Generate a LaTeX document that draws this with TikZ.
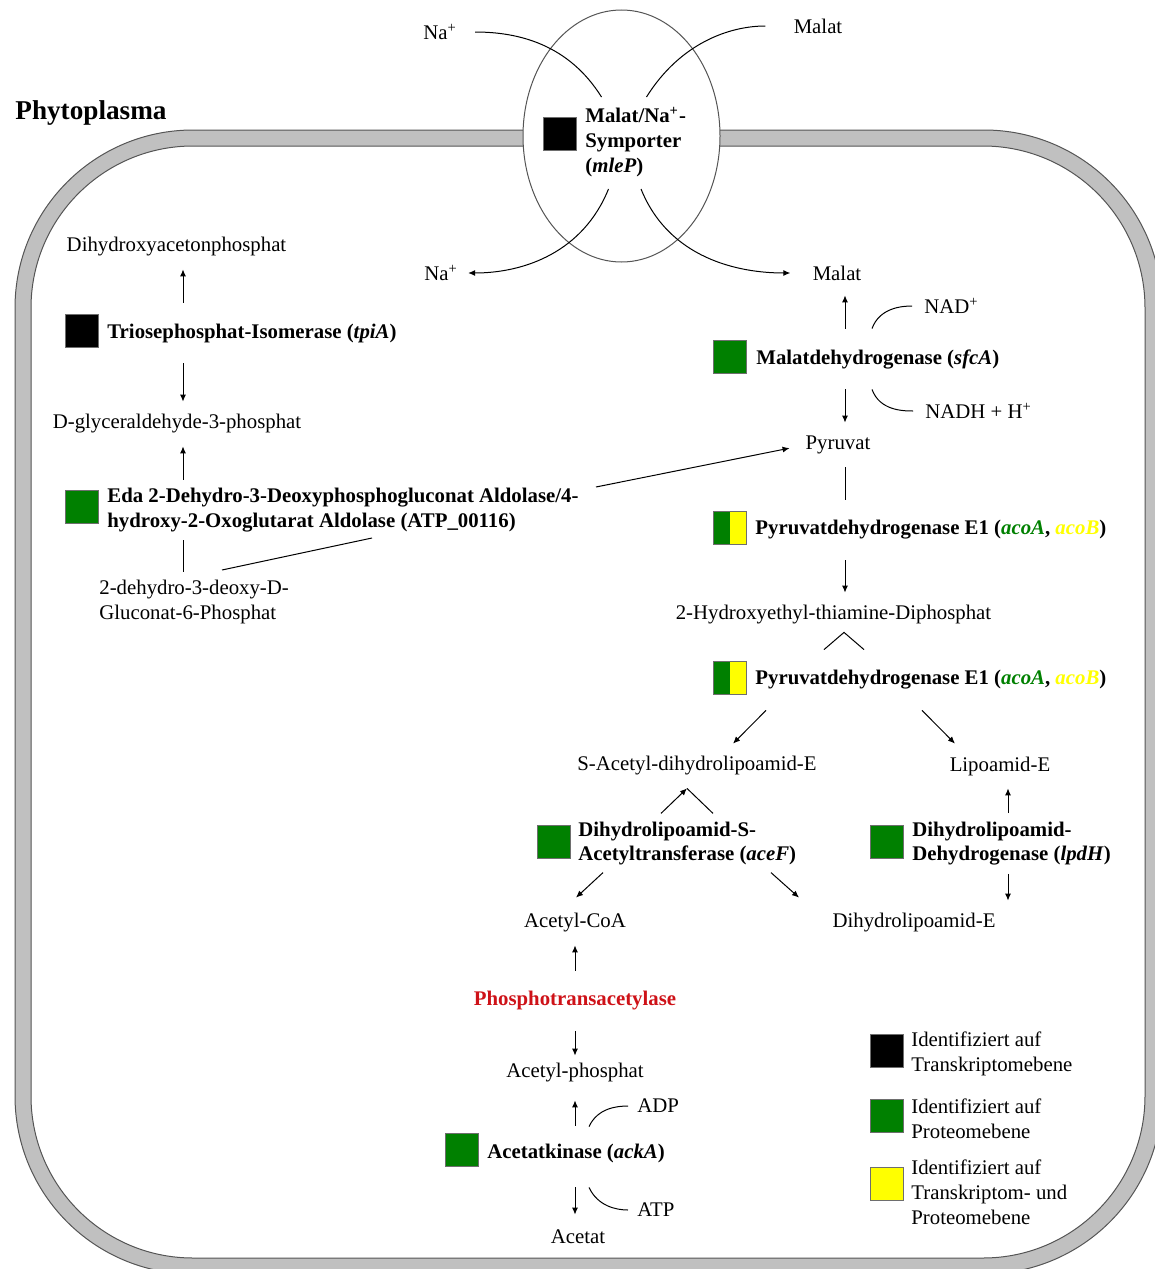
\documentclass[tikz,border=0pt]{standalone}
\usepackage{fontspec}
\setmainfont{Liberation Serif}
\usetikzlibrary{arrows.meta,shapes.geometric,calc}
\definecolor{pgreen}{RGB}{0,128,0}
\definecolor{pyellow}{RGB}{255,255,0}
\definecolor{pred}{RGB}{206,18,24}
\definecolor{memgray}{RGB}{192,192,192}
\definecolor{memline}{RGB}{85,85,85}
\definecolor{sqgray}{RGB}{110,110,110}
\newcommand{\bodysize}{\fontsize{10.4pt}{12.4pt}\selectfont}
\newcommand{\gene}[1]{\textit{#1}}

\begin{document}
\begin{tikzpicture}[
  x=0.5pt, y=-0.5pt,
  every node/.style={font=\bodysize, inner sep=0pt},
  metab/.style={minimum height=22pt, align=center, yshift=-1pt},
  enzyme/.style={anchor=west, minimum height=30pt, align=left, yshift=-1pt,
                 font=\bodysize\bfseries},
  side/.style={anchor=west, align=left, yshift=-1pt},
  marker/.style={draw=sqgray, line width=0.4pt, minimum size=16.5pt},
  dual/.style={marker, fill=pyellow, path picture={
      \fill[pgreen] (path picture bounding box.south west)
        rectangle (path picture bounding box.north);}},
  flow/.style={-{Latex[length=3.5pt,width=3pt]}, line width=0.5pt},
  link/.style={line width=0.5pt}
]
\useasboundingbox (0,0) rectangle (1155,1269);

% membrane
\begin{scope}
\clip (0,0) rectangle (1155,1269);
\fill[memgray, even odd rule] [rounded corners=89pt] (15,130) rectangle (1162,1274)
  [rounded corners=81pt] (31,146) rectangle (1145,1258);
\draw[memline, line width=0.5pt] [rounded corners=89pt] (15,130) rectangle (1162,1274)
  [rounded corners=81pt] (31,146) rectangle (1145,1258);
\end{scope}
\node[anchor=west, font=\fontsize{13.6pt}{16pt}\selectfont\bfseries] (phyto) at (15,113) {Phytoplasma};

% transporter
\node[ellipse, draw=memline, fill=white, line width=0.5pt,
      minimum width=98.5pt, minimum height=126pt] (sym) at (621.5,136) {};
\node[marker, fill=black] (symSq) at (559.5,133.5) {};
\node[side, font=\bodysize\bfseries] (symTxt) at (585,140)
  {Malat/Na\textsuperscript{+}-\\Symporter\\(\gene{mleP})};
\node[side, anchor=center] (naT) at (440,30) {Na\textsuperscript{+}};
\node[side, anchor=center] (malT) at (818,24) {Malat};
\node[metab] (naB) at (441,271) {Na\textsuperscript{+}};
\node[metab] (malB) at (837,271) {Malat};

\draw[link, shorten <=9pt] (naT.east) to[out=0,in=122] ($(sym.center)+(-20,-39)$);
\draw[link, shorten <=14pt] (malT.west) to[out=180,in=58] ($(sym.center)+(25,-39)$);
\draw[flow, shorten >=5pt] ($(sym.center)+(-13,53)$) to[out=-112,in=0] (naB.east);
\draw[flow, shorten >=11pt] ($(sym.center)+(19.5,53)$) to[out=-68,in=180] (malB.west);

% columns of the arrows
\coordinate (colL) at (183,0);
\coordinate (colR) at (845,0);
\coordinate (colA) at (575,0);
\coordinate (colD) at (1008,0);

% left branch
\node[metab] (dhap) at (176.5,245) {Dihydroxyacetonphosphat};
\node[marker, fill=black] (tpiSq) at (81.5,330.5) {};
\node[enzyme] (tpi) at (107,331) {Triosephosphat-Isomerase (\gene{tpiA})};
\node[metab] (gap) at (177,422) {D-glyceraldehyde-3-phosphat};
\node[marker, fill=pgreen] (edaSq) at (81.5,507) {};
\node[enzyme] (eda) at (107,508)
  {Eda 2-Dehydro-3-Deoxyphosphogluconat Aldolase/4-\\hydroxy-2-Oxoglutarat Aldolase (ATP\_00116)};
\node[metab, anchor=west, align=left] (kdpg) at (99,600)
  {2-dehydro-3-deoxy-D-\\Gluconat-6-Phosphat};

\draw[flow] (tpi.north -| colL) -- (dhap.south -| colL);
\draw[flow] (tpi.south -| colL) -- (gap.north -| colL);
\draw[flow] (eda.north -| colL) -- (gap.south -| colL);
\draw[link, shorten >=4pt] (eda.south -| colL) -- (kdpg.north -| colL);

% right branch
\node[marker, fill=pgreen] (sfcSq) at (729.5,356.5) {};
\node[enzyme] (sfc) at (756,357) {Malatdehydrogenase (\gene{sfcA})};
\node[side] (nad) at (924,304) {NAD\textsuperscript{+}};
\node[side] (nadh) at (925,409) {NADH + H\textsuperscript{+}};
\node[metab] (pyr) at (838,443) {Pyruvat};
\node[dual] (pdhSqA) at (729.5,527.5) {};
\node[enzyme] (pdhA) at (755,528)
  {Pyruvatdehydrogenase E1 (\textcolor{pgreen}{\gene{acoA}}, \textcolor{pyellow}{\gene{acoB}})};
\node[metab] (htpp) at (833.5,613) {2-Hydroxyethyl-thiamine-Diphosphat};
\node[dual] (pdhSqB) at (729.5,677.5) {};
\node[enzyme] (pdhB) at (755,678)
  {Pyruvatdehydrogenase E1 (\textcolor{pgreen}{\gene{acoA}}, \textcolor{pyellow}{\gene{acoB}})};
\node[metab] (sace) at (697,764) {S-Acetyl-dihydrolipoamid-E};
\node[metab] (lip) at (1000,764) {Lipoamid-E};
\node[marker, fill=pgreen] (aceSq) at (553.5,841.5) {};
\node[enzyme] (ace) at (578,841.5) {Dihydrolipoamid-S-\\Acetyltransferase (\gene{aceF})};
\node[marker, fill=pgreen] (lpdSq) at (886.5,841.5) {};
\node[enzyme] (lpd) at (912,841.5) {Dihydrolipoamid-\\Dehydrogenase (\gene{lpdH})};
\node[metab] (acoa) at (575,921) {Acetyl-CoA};
\node[metab] (dhl) at (914,921) {Dihydrolipoamid-E};

\draw[flow] (sfc.north -| colR) -- (malB.south -| colR);
\draw[flow] (sfc.south -| colR) -- (pyr.north -| colR);
\draw[link, shorten >=6pt] ($(sfc.north -| colR)+(27,0)$) to[out=70,in=180] (nad.west);
\draw[link, shorten >=6pt] ($(sfc.south -| colR)+(27,0)$) to[out=-70,in=180] (nadh.west);
\coordinate (edaOut) at (596,487);
\coordinate (kdpgOut) at (222,570);
\coordinate (edaIn) at (372,538);
\draw[link] (kdpgOut) -- (edaIn);
\draw[flow, shorten >=8pt] (edaOut) -- (pyr.west);
\draw[link] (pyr.south -| colR) -- (pdhA.north -| colR);
\draw[flow] (pdhA.south -| colR) -- (htpp.north -| colR);
\draw[link] ($(pdhB.north -| colR)+(-21,0)$) -- ($(htpp.south -| colR)+(-1,-5)$)
  -- ($(pdhB.north -| colR)+(19,0)$);
\draw[flow] ($(pdhB.south -| colR)+(-79,0)$) -- ($(sace.north)+(36,0)$);
\draw[flow] ($(pdhB.south -| colR)+(77,0)$) -- ($(lip.north)+(-45,0)$);
\draw[flow] ($(sace.south)+(-36,25)$) -- ($(sace.south)+(-10,0)$);
\draw[link] ($(sace.south)+(16,25)$) -- ($(sace.south)+(-10,0)$);
\draw[flow] (lpd.north -| colD) -- (lip.south -| colD);
\draw[flow] (lpd.south -| colD) -- (dhl.north -| colD);
\draw[flow] ($(acoa.north)+(28,-28)$) -- ($(acoa.north)+(1,-3)$);
\draw[flow] ($(dhl.north)+(-143,-28)$) -- ($(dhl.north)+(-115,-3)$);

% acetate
\node[enzyme, anchor=center, text=pred] (pta) at (575,999) {Phosphotransacetylase};
\node[metab] (acp) at (575,1071) {Acetyl-phosphat};
\node[marker, fill=pgreen] (ackSq) at (461.5,1149.5) {};
\node[enzyme] (ack) at (487,1151) {Acetatkinase (\gene{ackA})};
\node[side] (adp) at (637,1104) {ADP};
\node[side] (atp) at (637,1208) {ATP};
\node[metab] (acet) at (578,1235) {Acetat};

\draw[flow] (pta.north -| colA) -- (acoa.south -| colA);
\draw[flow, shorten >=-2.5pt] (pta.south -| colA) -- (acp.north -| colA);
\draw[flow] ($(ack.north -| colA)+(0,3)$) -- ($(acp.south -| colA)+(0,5)$);
\draw[flow, shorten <=2pt] (ack.south -| colA) -- (acet.north -| colA);
\draw[link, shorten >=4.5pt] ($(ack.north -| colA)+(14,4)$) to[out=65,in=180] (adp.west);
\draw[link, shorten >=4.5pt] ($(ack.south -| colA)+(14,4)$) to[out=-65,in=180] (atp.west);

% legend
\node[marker, fill=black] (legK) at (886.5,1050.5) {};
\node[side] (legKtxt) at (911,1052) {Identifiziert auf\\Transkriptomebene};
\node[marker, fill=pgreen] (legG) at (886.5,1115.5) {};
\node[side] (legGtxt) at (911,1117) {Identifiziert auf\\Proteomebene};
\node[marker, fill=pyellow] (legY) at (886.5,1183.5) {};
\node[side] (legYtxt) at (911,1190) {Identifiziert auf\\Transkriptom- und\\Proteomebene};
\end{tikzpicture}
\end{document}
